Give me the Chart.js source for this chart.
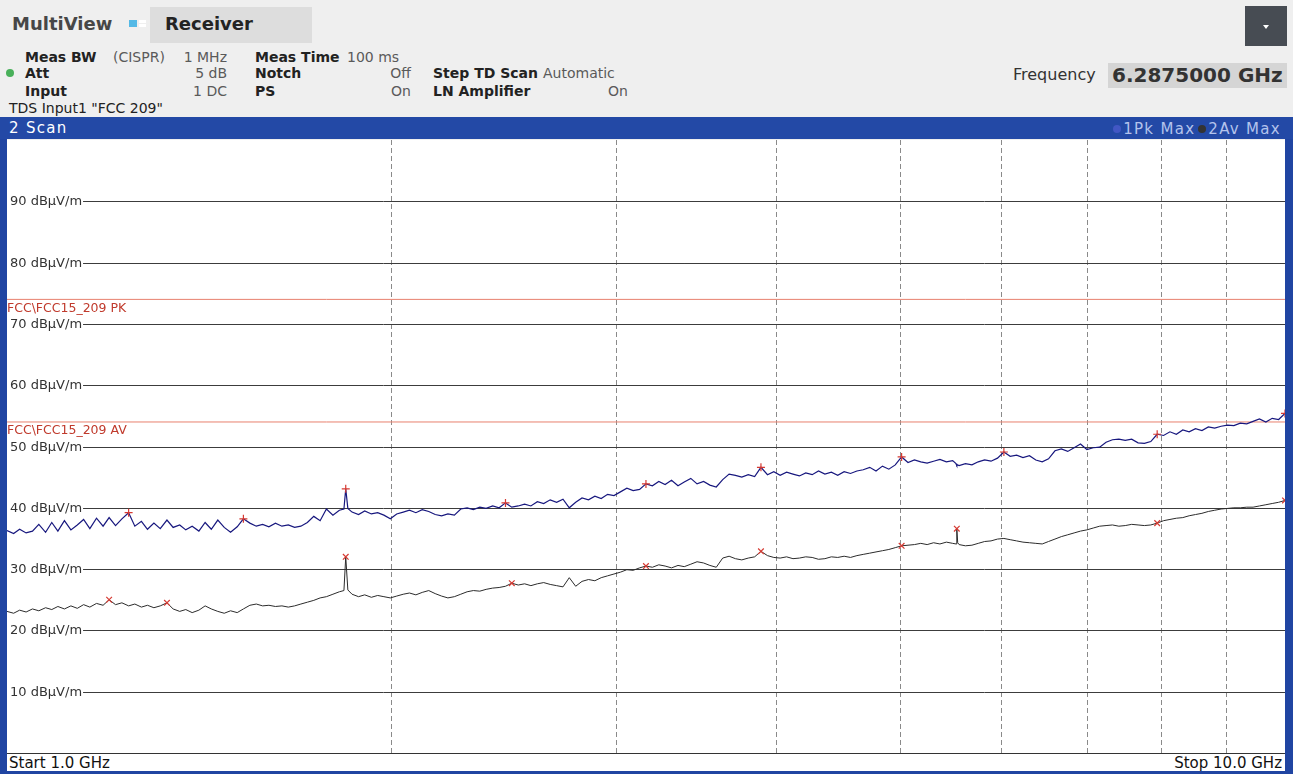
<!DOCTYPE html>
<html>
<head>
<meta charset="utf-8">
<title>Receiver - Scan</title>
<script src="https://cdn.jsdelivr.net/npm/chart.js@4.4.1/dist/chart.umd.min.js"></script>
<style>
  html, body { margin: 0; padding: 0; }
  body {
    width: 1293px; height: 774px; position: relative; overflow: hidden;
    background: #efefef; font-family: "DejaVu Sans", Verdana, sans-serif; color: #222;
  }
  .t { position: absolute; white-space: nowrap; line-height: 1; }
  .b { font-weight: bold; color: #222; }
  .v { color: #5a5a5a; }
  .box { position: absolute; }
  #scanbar { position: absolute; left: 0; top: 117px; width: 1293px; height: 22px; background: #2349a6; }
  #plotwrap { position: absolute; left: 7px; top: 140px; width: 1278px; height: 613px; background: #fff; }
  .dot { display: inline-block; width: 8px; height: 8px; border-radius: 50%; margin: 0 2px 2px 0; vertical-align: middle; }
</style>
</head>
<body>
<script>
// Sweep points (GHz) and the two detector traces (dBµV/m)
const freqGHz = [
  1.000,1.012,1.023,1.035,1.047,1.059,1.072,1.084,1.096,1.109,
  1.122,1.135,1.148,1.161,1.175,1.189,1.202,1.216,1.230,1.245,
  1.259,1.274,1.288,1.303,1.318,1.334,1.349,1.365,1.380,1.396,
  1.413,1.429,1.445,1.462,1.479,1.496,1.514,1.531,1.549,1.567,
  1.585,1.603,1.622,1.641,1.660,1.679,1.698,1.718,1.738,1.758,
  1.778,1.799,1.820,1.835,1.841,1.848,1.862,1.884,1.905,1.928,1.950,1.972,
  1.995,2.018,2.042,2.065,2.089,2.113,2.138,2.163,2.188,2.213,
  2.239,2.265,2.291,2.317,2.344,2.371,2.399,2.427,2.455,2.483,
  2.512,2.541,2.570,2.600,2.630,2.661,2.692,2.723,2.754,2.786,
  2.818,2.851,2.884,2.917,2.951,2.985,3.020,3.055,3.090,3.126,
  3.162,3.199,3.236,3.273,3.311,3.350,3.388,3.428,3.467,3.508,
  3.548,3.589,3.631,3.673,3.715,3.758,3.802,3.846,3.890,3.936,
  3.981,4.027,4.074,4.121,4.169,4.217,4.266,4.315,4.365,4.416,
  4.467,4.519,4.571,4.624,4.677,4.732,4.786,4.842,4.898,4.955,
  5.012,5.070,5.129,5.188,5.248,5.309,5.370,5.433,5.495,5.528,5.536,5.545,5.559,
  5.623,5.689,5.754,5.821,5.888,5.957,6.026,6.095,6.166,6.237,
  6.310,6.383,6.457,6.531,6.607,6.683,6.761,6.839,6.918,6.998,
  7.079,7.161,7.244,7.328,7.413,7.499,7.586,7.674,7.762,7.852,
  7.943,8.035,8.128,8.222,8.318,8.414,8.511,8.610,8.710,8.810,
  8.913,9.016,9.120,9.226,9.333,9.441,9.550,9.661,9.772,9.886,
  10.000
];
const pkMax = [
  36.3,35.8,36.5,35.9,36.2,37.3,36.0,37.6,36.2,37.9,
  36.4,37.2,38.1,36.6,38.3,37.0,38.4,37.1,38.2,39.2,
  37.0,37.8,36.5,37.5,36.6,38.0,36.8,37.2,36.4,37.0,
  36.2,37.6,36.5,38.0,36.8,36.0,36.9,38.2,37.5,37.0,
  37.3,36.9,37.5,37.0,37.2,36.8,37.0,37.6,38.6,37.9,
  39.8,38.8,39.6,39.8,43.1,39.9,39.3,38.9,39.5,39.0,39.2,38.8,
  38.2,39.0,39.3,39.6,39.2,39.7,39.4,38.9,38.7,39.0,
  38.8,39.8,40.0,39.7,40.1,39.9,40.3,40.0,40.8,40.1,
  40.3,40.6,40.3,41.0,40.7,41.3,40.9,41.4,40.0,40.9,
  41.6,41.3,41.9,41.5,42.2,42.0,42.6,43.2,42.8,43.0,
  43.9,43.6,44.3,43.8,44.5,43.6,44.2,44.8,43.9,44.3,
  43.7,43.4,44.6,45.5,45.3,45.0,45.4,45.1,46.6,45.4,
  45.9,45.3,45.8,45.5,45.2,45.7,45.4,46.0,45.5,45.8,
  45.3,45.9,45.6,46.0,46.2,46.6,46.0,46.8,46.3,47.0,
  48.3,47.4,47.8,47.5,47.3,47.6,47.9,47.5,47.7,47.2,46.9,47.0,46.9,
  47.2,47.0,47.5,47.8,47.6,48.1,49.1,48.4,48.6,48.2,
  48.5,47.8,47.5,48.0,49.3,49.6,49.2,49.8,50.4,49.5,
  49.8,49.9,50.7,51.1,51.2,51.0,51.2,50.6,50.5,50.8,
  52.0,51.8,52.4,52.0,52.7,52.4,52.9,52.6,53.2,53.0,
  53.3,53.5,53.4,53.8,53.7,54.1,54.5,54.0,54.6,54.4,
  55.4
];
const avMax = [
  23.1,22.8,23.3,23.0,23.5,23.2,23.7,23.4,23.9,23.5,
  24.0,23.6,24.2,23.8,24.4,24.1,25.0,24.2,24.5,24.0,
  24.3,23.8,24.1,23.7,24.0,24.5,23.5,23.1,23.4,22.9,
  23.3,24.0,23.5,23.1,22.8,23.2,22.9,23.5,24.1,24.3,
  24.0,24.1,23.9,24.0,23.8,24.0,24.3,24.6,24.9,25.3,
  25.5,25.9,26.3,26.5,32.0,26.6,25.9,25.5,25.8,25.4,25.7,25.5,
  25.3,25.6,25.9,26.1,25.8,26.2,26.5,26.0,25.6,25.3,
  25.5,25.9,26.3,26.5,26.4,26.7,26.9,27.0,27.2,27.7,
  27.4,27.6,27.3,27.6,27.8,27.5,27.3,27.1,28.6,27.2,
  28.0,28.3,28.1,28.6,28.9,29.2,29.5,29.9,29.8,30.2,
  30.5,30.3,30.7,30.5,30.2,30.6,30.4,30.8,31.2,31.0,
  30.6,30.3,31.8,32.1,31.7,31.5,31.8,32.0,32.9,32.2,
  31.9,31.8,32.0,31.7,31.8,32.0,31.9,31.6,31.7,32.0,
  31.9,32.1,31.9,32.2,32.4,32.6,32.8,33.0,33.2,33.5,
  33.8,33.9,34.0,34.2,34.0,34.3,34.1,34.4,34.2,34.1,36.6,34.3,34.0,
  33.8,33.9,34.2,34.5,34.6,34.9,35.0,34.8,34.6,34.4,
  34.3,34.2,34.1,34.5,34.9,35.3,35.6,35.9,36.2,36.4,
  36.7,37.0,37.1,37.2,37.0,37.1,37.3,37.2,37.1,37.2,
  37.5,37.9,38.1,38.3,38.4,38.7,38.9,39.1,39.4,39.6,
  39.8,39.9,40.0,40.0,40.1,40.1,40.3,40.5,40.7,40.9,
  41.2
];

// Peak-search markers on each trace
const pkMarkGHz   = [1.245, 1.531, 1.841, 2.455, 3.162, 3.890, 5.012, 6.026, 7.943, 10.000];
const pkMarkLevel = [39.2, 38.2, 43.1, 40.8, 43.9, 46.6, 48.3, 49.1, 52.0, 55.4];
const avMarkGHz   = [1.202, 1.334, 1.841, 2.483, 3.162, 3.890, 5.012, 5.536, 7.943, 10.000];
const avMarkLevel = [25.0, 24.5, 32.0, 27.7, 30.5, 32.9, 33.8, 36.6, 37.5, 41.2];

// FCC 15.209 limit lines
const limitNames  = ["FCC\\FCC15_209 PK", "FCC\\FCC15_209 AV"];
const limitLevels = [74, 54];

// Axis ticks
const yTickValues = [10, 20, 30, 40, 50, 60, 70, 80, 90];
const yUnit = "dBµV/m";
const xGridGHz = [2, 3, 4, 5, 6, 7, 8, 9];
const startGHz = 1.0, stopGHz = 10.0;
</script>

<!-- title row -->
<div class="t b" style="left:12px;top:15px;font-size:18px;color:#474747;">MultiView</div>
<div class="box" style="left:129px;top:20px;width:8px;height:7px;background:#54b9e6;"></div>
<div class="box" style="left:139px;top:20px;width:7px;height:3px;background:#ffffff;"></div>
<div class="box" style="left:139px;top:24px;width:7px;height:3px;background:#ffffff;"></div>
<div class="box" style="left:150px;top:7px;width:162px;height:36px;background:#dddddd;"></div>
<div class="t b" style="left:165px;top:15px;font-size:18px;color:#232323;">Receiver</div>

<div class="box" style="left:1245px;top:6px;width:42px;height:40px;background:#474c53;"></div>
<div class="box" style="left:1263px;top:25px;width:0;height:0;border-left:3px solid transparent;border-right:3px solid transparent;border-top:4px solid #ffffff;"></div>

<!-- settings -->
<div class="t b" style="left:25px;top:50px;font-size:14px;">Meas BW</div>
<div class="t v" style="left:113px;top:50px;font-size:14px;">(CISPR)</div>
<div class="t v" style="right:1066px;top:50px;font-size:14px;">1 MHz</div>
<div class="t b" style="left:255px;top:50px;font-size:14px;">Meas Time</div>
<div class="t v" style="left:347px;top:50px;font-size:14px;">100 ms</div>

<div class="box" style="left:6px;top:69px;width:8px;height:8px;border-radius:50%;background:#49b05a;"></div>
<div class="t b" style="left:25px;top:66px;font-size:14px;">Att</div>
<div class="t v" style="right:1066px;top:66px;font-size:14px;">5 dB</div>
<div class="t b" style="left:255px;top:66px;font-size:14px;">Notch</div>
<div class="t v" style="right:882px;top:66px;font-size:14px;">Off</div>
<div class="t b" style="left:433px;top:66px;font-size:14px;">Step TD Scan</div>
<div class="t v" style="left:543px;top:66px;font-size:14px;">Automatic</div>

<div class="t b" style="left:25px;top:84px;font-size:14px;">Input</div>
<div class="t v" style="right:1066px;top:84px;font-size:14px;">1 DC</div>
<div class="t b" style="left:255px;top:84px;font-size:14px;">PS</div>
<div class="t v" style="right:882px;top:84px;font-size:14px;">On</div>
<div class="t b" style="left:433px;top:84px;font-size:14px;">LN Amplifier</div>
<div class="t v" style="right:665px;top:84px;font-size:14px;">On</div>

<div class="t" style="left:9px;top:101px;font-size:14px;color:#222;">TDS Input1 "FCC 209"</div>

<div class="t" style="left:1013px;top:67px;font-size:16px;color:#333;">Frequency</div>
<div class="box" style="left:1108px;top:63px;width:179px;height:25px;background:#d5d5d5;"></div>
<div class="t b" style="left:1112px;top:65px;font-size:20px;color:#333;">6.2875000 GHz</div>

<!-- scan window -->
<div id="scanbar"></div>
<div class="t" style="left:9px;top:121px;font-size:15px;color:#ffffff;letter-spacing:1.3px;">2 Scan</div>
<div class="t" style="right:12px;top:122px;font-size:15px;color:#b3c3ec;letter-spacing:1.3px;">
  <span class="dot" style="background:#4257c4;"></span>1Pk Max<span class="dot" style="background:#333333;margin-left:3px;"></span>2Av Max
</div>

<div class="box" style="left:0;top:139px;width:7px;height:635px;background:#2045a2;"></div>
<div class="box" style="left:1285px;top:139px;width:8px;height:635px;background:#2045a2;"></div>
<div class="box" style="left:7px;top:753px;width:1278px;height:18px;background:#ffffff;border-top:1px solid #333;box-sizing:border-box;"></div>
<div class="box" style="left:0;top:771px;width:1293px;height:3px;background:#2045a2;"></div>
<div class="t" id="startLbl" style="left:9px;top:756px;font-size:15px;color:#111;"></div>
<div class="t" id="stopLbl" style="right:11px;top:756px;font-size:15px;color:#111;"></div>

<div id="plotwrap"><canvas id="scan" width="1278" height="613"></canvas></div>

<script>
document.getElementById('startLbl').textContent = 'Start ' + startGHz.toFixed(1) + ' GHz';
document.getElementById('stopLbl').textContent = 'Stop ' + stopGHz.toFixed(1) + ' GHz';

const toPoints = (xs, ys) => xs.map((x, i) => ({ x: x, y: ys[i] }));

// Level lines with inline labels, and the limit-line captions
const levelGrid = {
  id: 'levelGrid',
  beforeDatasetsDraw(chart) {
    const { ctx, chartArea, scales } = chart;
    const y = scales.y;
    ctx.save();
    ctx.font = '13px "DejaVu Sans", Verdana, sans-serif';
    ctx.textBaseline = 'middle';
    ctx.lineWidth = 1;
    yTickValues.forEach(v => {
      const py = Math.round(y.getPixelForValue(v)) + 0.5;
      const label = v + ' ' + yUnit;
      const lx = chartArea.left + 3;
      ctx.fillStyle = '#333';
      ctx.fillText(label, lx, py);
      const w = ctx.measureText(label).width;
      ctx.strokeStyle = '#3c3c3c';
      ctx.beginPath();
      ctx.moveTo(lx + w + 1, py);
      ctx.lineTo(chartArea.right, py);
      ctx.stroke();
    });
    ctx.font = '12.5px "DejaVu Sans", Verdana, sans-serif';
    ctx.fillStyle = '#c03a2c';
    limitLevels.forEach((lv, i) => {
      const py = y.getPixelForValue(lv);
      ctx.fillText(limitNames[i], chartArea.left, py + 9);
    });
    ctx.restore();
  }
};

new Chart(document.getElementById('scan'), {
  type: 'line',
  data: {
    datasets: [
      {
        label: '1Pk Max markers', data: toPoints(pkMarkGHz, pkMarkLevel),
        showLine: false, pointStyle: 'cross', pointRadius: 4, pointBorderWidth: 1.2,
        pointBorderColor: '#d63a32', pointBackgroundColor: '#d63a32', order: 0
      },
      {
        label: '2Av Max markers', data: toPoints(avMarkGHz, avMarkLevel),
        showLine: false, pointStyle: 'crossRot', pointRadius: 4, pointBorderWidth: 1.2,
        pointBorderColor: '#d63a32', pointBackgroundColor: '#d63a32', order: 0
      },
      {
        label: '1Pk Max', data: toPoints(freqGHz, pkMax),
        borderColor: '#17177e', borderWidth: 1.2, pointRadius: 0, tension: 0, order: 1
      },
      {
        label: '2Av Max', data: toPoints(freqGHz, avMax),
        borderColor: '#2b2b2b', borderWidth: 1, pointRadius: 0, tension: 0, order: 1
      },
      {
        label: limitNames[0], data: [{ x: startGHz, y: limitLevels[0] }, { x: stopGHz, y: limitLevels[0] }],
        borderColor: '#e8806e', borderWidth: 1, pointRadius: 0, order: 2
      },
      {
        label: limitNames[1], data: [{ x: startGHz, y: limitLevels[1] }, { x: stopGHz, y: limitLevels[1] }],
        borderColor: '#e8806e', borderWidth: 1, pointRadius: 0, order: 2
      }
    ]
  },
  options: {
    responsive: false,
    animation: false,
    events: [],
    layout: { padding: 0, autoPadding: false },
    plugins: { legend: { display: false }, tooltip: { enabled: false } },
    scales: {
      x: {
        type: 'logarithmic', min: startGHz, max: stopGHz,
        afterBuildTicks: scale => { scale.ticks = xGridGHz.map(v => ({ value: v })); },
        ticks: { display: false },
        grid: { color: '#8a8a8a', lineWidth: 1, drawTicks: false },
        border: { display: false, dash: [5, 3] }
      },
      y: { min: 0, max: 100, display: false }
    }
  },
  plugins: [levelGrid]
});
</script>
</body>
</html>
